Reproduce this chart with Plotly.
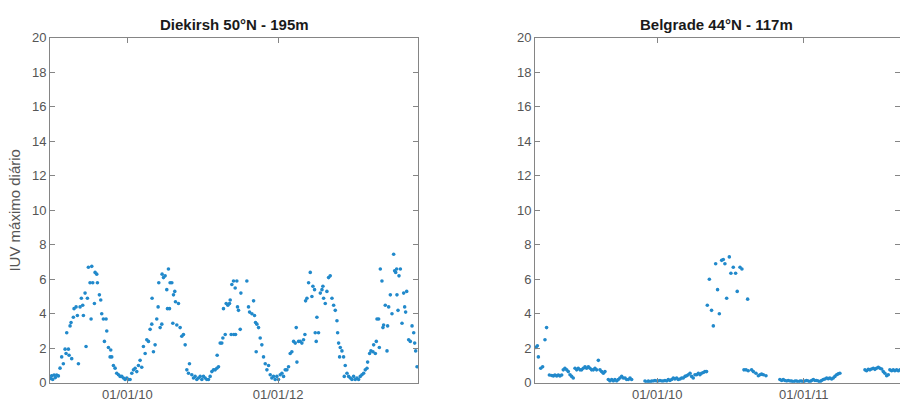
import plotly.graph_objects as go
import pandas as pd

# ---------------- data (decimal years, daily maximum UV index) ----------------
left_title = "Diekirsh 50°N - 195m"
right_title = "Belgrade 44°N - 117m"
y_label = "IUV máximo diário"

left_t = [2008.982, 2008.996, 2009.009, 2009.027, 2009.044, 2009.062, 2009.084, 2009.106, 2009.128, 2009.150,
          2009.173, 2009.186, 2009.195, 2009.217, 2009.226, 2009.239, 2009.252, 2009.261, 2009.283, 2009.292,
          2009.319, 2009.336, 2009.350, 2009.372, 2009.389, 2009.407, 2009.416, 2009.438, 2009.451, 2009.469,
          2009.482, 2009.504, 2009.518, 2009.527, 2009.540, 2009.562, 2009.571, 2009.593, 2009.602, 2009.628,
          2009.646, 2009.659, 2009.681, 2009.695, 2009.717, 2009.726, 2009.748, 2009.770, 2009.779, 2009.792,
          2009.814, 2009.836, 2009.858, 2009.881, 2009.903, 2009.925, 2009.947, 2009.969, 2009.991, 2010.013,
          2010.035, 2010.058, 2010.080, 2010.102, 2010.124, 2010.146, 2010.168, 2010.190, 2010.212, 2010.235,
          2010.257, 2010.279, 2010.301, 2010.323, 2010.327, 2010.345, 2010.367, 2010.389, 2010.407, 2010.416,
          2010.434, 2010.456, 2010.460, 2010.478, 2010.500, 2010.522, 2010.531, 2010.544, 2010.558, 2010.566,
          2010.589, 2010.602, 2010.611, 2010.628, 2010.637, 2010.655, 2010.677, 2010.699, 2010.721, 2010.743,
          2010.766, 2010.788, 2010.810, 2010.823, 2010.854, 2010.876, 2010.898, 2010.920, 2010.942, 2010.965,
          2010.987, 2011.009, 2011.031, 2011.053, 2011.075, 2011.097, 2011.120, 2011.142, 2011.164, 2011.186,
          2011.190, 2011.208, 2011.230, 2011.252, 2011.266, 2011.274, 2011.297, 2011.310, 2011.332, 2011.354,
          2011.363, 2011.376, 2011.385, 2011.407, 2011.412, 2011.429, 2011.434, 2011.451, 2011.460, 2011.473,
          2011.496, 2011.505, 2011.584, 2011.606, 2011.620, 2011.651, 2011.673, 2011.686, 2011.699, 2011.708,
          2011.717, 2011.739, 2011.761, 2011.783, 2011.805, 2011.828, 2011.850, 2011.872, 2011.894, 2011.916,
          2011.938, 2011.960, 2011.982, 2012.004, 2012.027, 2012.049, 2012.071, 2012.093, 2012.115, 2012.137,
          2012.159, 2012.181, 2012.204, 2012.226, 2012.239, 2012.248, 2012.270, 2012.292, 2012.314, 2012.336,
          2012.354, 2012.363, 2012.381, 2012.403, 2012.425, 2012.447, 2012.460, 2012.482, 2012.491, 2012.504,
          2012.513, 2012.535, 2012.558, 2012.580, 2012.593, 2012.602, 2012.624, 2012.646, 2012.668, 2012.690,
          2012.713, 2012.735, 2012.757, 2012.779, 2012.788, 2012.801, 2012.814, 2012.823, 2012.845, 2012.867,
          2012.876, 2012.889, 2012.912, 2012.934, 2012.956, 2012.978, 2013.000, 2013.022, 2013.044, 2013.066,
          2013.088, 2013.111, 2013.133, 2013.155, 2013.177, 2013.186, 2013.212, 2013.230, 2013.257, 2013.266,
          2013.288, 2013.301, 2013.310, 2013.332, 2013.341, 2013.354, 2013.376, 2013.389, 2013.398, 2013.420,
          2013.443, 2013.451, 2013.465, 2013.487, 2013.509, 2013.531, 2013.544, 2013.558, 2013.571, 2013.575,
          2013.589, 2013.602, 2013.620, 2013.642, 2013.664, 2013.677, 2013.690, 2013.704, 2013.730, 2013.752,
          2013.775, 2013.797, 2013.810, 2013.823, 2013.841]

left_v = [0.25, 0.40, 0.19, 0.45, 0.30, 0.45, 0.40, 0.85, 1.50, 1.10,
          1.95, 1.70, 2.90, 1.95, 1.60, 3.30, 3.50, 1.40, 3.80, 4.30,
          4.40, 3.90, 1.10, 4.40, 4.90, 4.50, 3.90, 5.20, 2.10, 4.90,
          6.70, 5.80, 3.70, 6.75, 5.80, 4.60, 6.40, 6.30, 5.80, 5.10,
          4.80, 4.00, 3.70, 2.40, 3.70, 3.00, 2.05, 1.50, 1.90, 1.50,
          1.00, 0.85, 0.55, 0.47, 0.37, 0.37, 0.28, 0.19, 0.28, 0.19,
          0.19, 0.55, 0.75, 0.84, 0.65, 1.00, 1.30, 0.90, 2.10, 1.70,
          2.50, 2.40, 3.10, 3.40, 4.90, 1.80, 2.20, 3.70, 4.40, 5.80,
          3.20, 3.40, 6.30, 6.10, 6.20, 5.40, 4.30, 6.60, 4.30, 5.80,
          5.80, 3.45, 5.10, 5.30, 4.70, 3.35, 4.60, 3.20, 2.70, 2.80,
          2.20, 0.75, 0.55, 1.10, 0.47, 0.28, 0.37, 0.19, 0.28, 0.37,
          0.19, 0.37, 0.28, 0.19, 0.19, 0.37, 0.65, 0.75, 0.75, 0.84,
          1.60, 0.93, 2.30, 2.30, 2.60, 4.30, 2.80, 4.60, 4.50, 4.60,
          4.80, 2.80, 5.70, 5.90, 2.80, 5.50, 2.80, 5.90, 4.40, 4.20,
          3.10, 5.20, 5.90, 4.40, 4.10, 4.00, 4.75, 3.90, 3.50, 1.80,
          3.40, 3.20, 2.60, 2.20, 1.50, 1.10, 0.75, 1.00, 0.47, 0.28,
          0.37, 0.19, 0.37, 0.19, 0.47, 0.55, 0.37, 0.75, 0.75, 0.93,
          1.70, 1.80, 2.40, 2.30, 3.20, 1.20, 2.40, 2.40, 2.30, 2.50,
          2.80, 4.75, 4.90, 5.80, 6.40, 5.00, 5.60, 5.40, 2.90, 2.40,
          3.80, 2.90, 5.20, 5.40, 5.60, 4.90, 4.60, 5.30, 6.10, 6.20,
          4.90, 4.50, 4.20, 3.60, 2.90, 2.30, 1.50, 2.05, 1.85, 1.50,
          0.37, 1.00, 0.55, 0.37, 0.28, 0.19, 0.37, 0.19, 0.28, 0.19,
          0.37, 0.47, 0.55, 0.75, 0.84, 1.20, 1.70, 1.85, 1.80, 2.20,
          1.70, 2.40, 3.70, 3.70, 2.05, 6.60, 5.90, 3.20, 3.35, 4.50,
          1.85, 3.30, 4.40, 5.10, 4.00, 7.45, 6.50, 6.40, 6.60, 5.10,
          4.20, 6.20, 6.60, 3.45, 5.20, 4.40, 4.10, 5.30, 2.50, 2.40,
          3.30, 2.90, 2.30, 1.85, 0.93]

right_t = [2009.173, 2009.182, 2009.189, 2009.205, 2009.218, 2009.234, 2009.245,
           2009.264, 2009.280, 2009.291, 2009.302, 2009.314, 2009.325, 2009.336, 2009.348,
           2009.359, 2009.370, 2009.382, 2009.393, 2009.405, 2009.416, 2009.427,
           2009.439, 2009.450, 2009.461, 2009.473, 2009.484, 2009.495, 2009.507, 2009.518,
           2009.530, 2009.541, 2009.552, 2009.564, 2009.575, 2009.586, 2009.598, 2009.609,
           2009.620, 2009.632, 2009.643,
           2009.666, 2009.677, 2009.689, 2009.700, 2009.711, 2009.723, 2009.734, 2009.745,
           2009.757, 2009.768, 2009.780, 2009.791, 2009.802, 2009.814, 2009.825,
           2009.916, 2009.927, 2009.939, 2009.950, 2009.961, 2009.973, 2009.984, 2009.995,
           2010.007, 2010.018, 2010.030, 2010.041, 2010.052, 2010.064, 2010.075, 2010.086,
           2010.098, 2010.109, 2010.120, 2010.132, 2010.143, 2010.155, 2010.166, 2010.177,
           2010.189, 2010.200, 2010.211, 2010.223, 2010.234, 2010.245, 2010.257, 2010.268,
           2010.280, 2010.291, 2010.302, 2010.314, 2010.325, 2010.336,
           2010.341, 2010.355, 2010.370, 2010.382, 2010.398, 2010.411, 2010.423, 2010.439,
           2010.450, 2010.461, 2010.473, 2010.491, 2010.502, 2010.518, 2010.534, 2010.545,
           2010.564, 2010.577, 2010.616,
           2010.591, 2010.605, 2010.620, 2010.643, 2010.655, 2010.673, 2010.689, 2010.700,
           2010.711, 2010.723, 2010.741,
           2010.836, 2010.848, 2010.859, 2010.870, 2010.882, 2010.893, 2010.905, 2010.916,
           2010.927, 2010.939, 2010.950, 2010.961, 2010.973, 2010.984, 2010.995, 2011.007,
           2011.018, 2011.030, 2011.041, 2011.052, 2011.064, 2011.075, 2011.086, 2011.098,
           2011.109, 2011.120, 2011.132, 2011.143, 2011.155, 2011.166, 2011.177, 2011.189,
           2011.200, 2011.211, 2011.223, 2011.234, 2011.245,
           2011.416, 2011.427, 2011.439, 2011.450, 2011.461, 2011.473, 2011.484, 2011.495,
           2011.507, 2011.518, 2011.530, 2011.541, 2011.552, 2011.564, 2011.575, 2011.586,
           2011.598, 2011.609, 2011.620, 2011.632, 2011.643, 2011.655]

right_v = [2.05, 2.15, 1.50, 0.84, 0.93, 2.50, 3.20,
           0.45, 0.42, 0.40, 0.45, 0.40, 0.45, 0.40, 0.45,
           0.75, 0.84, 0.75, 0.65, 0.47, 0.37, 0.28,
           0.84, 0.75, 0.84, 0.75, 0.75, 0.84, 0.93, 0.84,
           0.93, 0.84, 0.75, 0.75, 0.84, 0.75, 1.30, 0.75,
           0.65, 0.55, 0.65,
           0.19, 0.10, 0.19, 0.10, 0.19, 0.10, 0.19, 0.28,
           0.37, 0.28, 0.28, 0.19, 0.19, 0.28, 0.19,
           0.10, 0.04, 0.10, 0.04, 0.10, 0.10, 0.13, 0.10,
           0.10, 0.13, 0.10, 0.10, 0.13, 0.10, 0.19, 0.13,
           0.19, 0.28, 0.22, 0.28, 0.19, 0.22, 0.28, 0.28,
           0.37, 0.41, 0.47, 0.55, 0.37, 0.28, 0.47, 0.47,
           0.55, 0.47, 0.55, 0.60, 0.65, 0.65,
           4.50, 6.00, 4.20, 3.30, 6.90, 5.40, 4.00, 7.10,
           7.15, 6.90, 4.90, 7.30, 6.35, 6.70, 6.35, 5.30,
           6.70, 6.60, 4.85,
           0.75, 0.75, 0.70, 0.75, 0.65, 0.55, 0.41, 0.47,
           0.50, 0.47, 0.41,
           0.19, 0.13, 0.19, 0.13, 0.10, 0.13, 0.10, 0.10,
           0.06, 0.10, 0.10, 0.06, 0.10, 0.10, 0.06, 0.10,
           0.13, 0.10, 0.06, 0.13, 0.19, 0.13, 0.13, 0.10,
           0.04, 0.13, 0.19, 0.22, 0.28, 0.24, 0.28, 0.22,
           0.28, 0.37, 0.47, 0.52, 0.55,
           0.75, 0.70, 0.78, 0.75, 0.80, 0.84, 0.78, 0.84,
           0.90, 0.84, 0.80, 0.65, 0.55, 0.41, 0.47, 0.75,
           0.70, 0.75, 0.70, 0.75, 0.70, 0.75]

left_xlim = [2008.973, 2013.854]
right_xlim = [2009.166, 2011.655]
left_ticks = ["2010-01-01", "2012-01-01"]
right_ticks = ["2010-01-01", "2011-01-01"]
y_ticks = [0, 2, 4, 6, 8, 10, 12, 14, 16, 18, 20]


def to_date(yrs):
    base = pd.Timestamp("2009-01-01")
    return [base + pd.Timedelta(days=(y - 2009) * 365.25) for y in yrs]


W, H = 900, 412
MARK = "#2189cb"
AX = "#858585"
TXT = "#555555"
FONT = "Liberation Sans, Arial, sans-serif"

fig = go.Figure()
fig.add_trace(go.Scatter(x=to_date(left_t), y=left_v, mode="markers",
                         marker=dict(size=3.6, color=MARK), xaxis="x", yaxis="y",
                         showlegend=False, hoverinfo="skip"))
fig.add_trace(go.Scatter(x=to_date(right_t), y=right_v, mode="markers",
                         marker=dict(size=3.6, color=MARK), xaxis="x2", yaxis="y2",
                         showlegend=False, hoverinfo="skip"))
# empty trace so the mirrored right-hand tick axis of the second panel is drawn
fig.add_trace(go.Scatter(x=[], y=[], mode="markers", xaxis="x2", yaxis="y3",
                         showlegend=False, hoverinfo="skip"))

ydom = [1 - 390 / H, 1 - 32 / H]
xdom1 = [50 / W, 418 / W]
xdom2 = [535 / W, 1.0]

common_x = dict(type="date", showline=True, linecolor=AX, linewidth=1, mirror="ticks",
                ticks="inside", ticklen=5, tickcolor=AX, showgrid=False, zeroline=False,
                tickfont=dict(family=FONT, size=13, color=TXT), tickformat="%d/%m/%y")
common_y = dict(range=[0, 20], tickvals=y_ticks, showline=True, linecolor=AX, linewidth=1,
                ticks="inside", ticklen=5, tickcolor=AX, showgrid=False, zeroline=False,
                tickfont=dict(family=FONT, size=13, color=TXT))

fig.update_layout(
    width=W, height=H, margin=dict(l=0, r=0, t=0, b=0),
    paper_bgcolor="white", plot_bgcolor="white",
    xaxis=dict(domain=xdom1, anchor="y",
               range=to_date(left_xlim), tickvals=left_ticks, **common_x),
    yaxis=dict(domain=ydom, anchor="x", mirror="ticks",
               title=dict(text=y_label, font=dict(family=FONT, size=15, color=TXT), standoff=7),
               **common_y),
    xaxis2=dict(domain=xdom2, anchor="y2",
                range=to_date(right_xlim), tickvals=right_ticks, **common_x),
    yaxis2=dict(domain=ydom, anchor="x2", mirror=False, **common_y),
    yaxis3=dict(overlaying="y2", side="right", anchor="free", position=1.0,
                range=[0, 20], tickvals=y_ticks, showline=False, ticks="inside",
                ticklen=5, tickcolor=AX, showticklabels=False, showgrid=False,
                zeroline=False),
    annotations=[
        dict(text="<b>" + left_title + "</b>", x=234 / W, y=1 - 18 / H, xref="paper", yref="paper",
             xanchor="center", yanchor="middle", showarrow=False,
             font=dict(family=FONT, size=15, color="#1a1a1a")),
        dict(text="<b>" + right_title + "</b>", x=716 / W, y=1 - 18 / H, xref="paper", yref="paper",
             xanchor="center", yanchor="middle", showarrow=False,
             font=dict(family=FONT, size=15, color="#1a1a1a")),
    ],
)

fig.write_html("out.html")
